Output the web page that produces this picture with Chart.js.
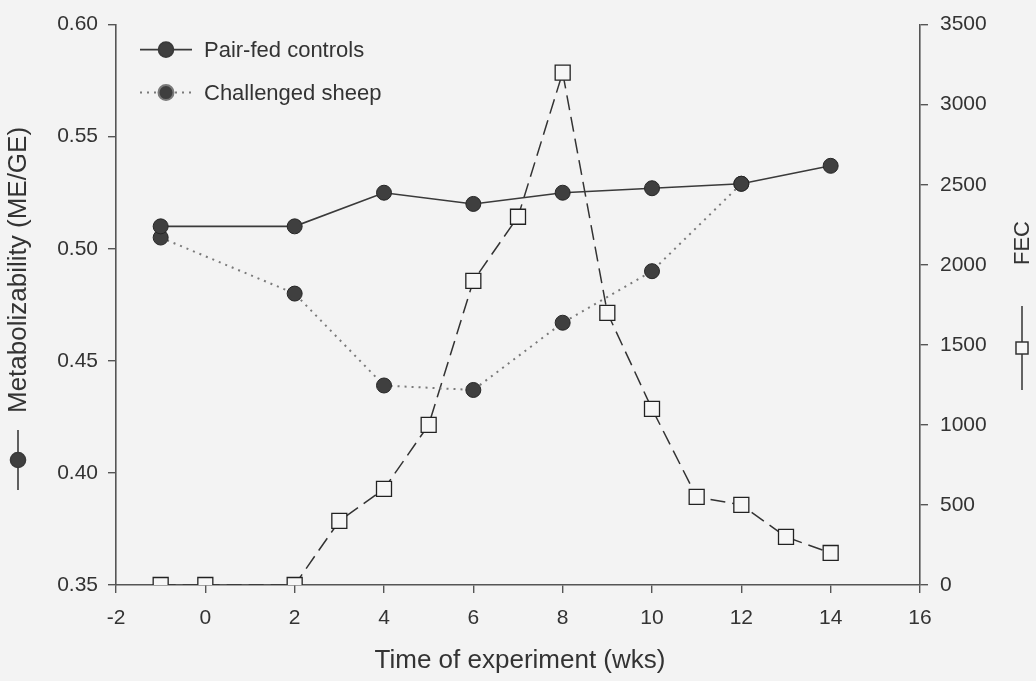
<!DOCTYPE html>
<html>
<head>
<meta charset="utf-8">
<script src="https://cdn.jsdelivr.net/npm/chart.js@4.4.1/dist/chart.umd.min.js"></script>
<style>
    html, body { margin: 0; padding: 0; background: #f3f3f3; }
    #wrap { width: 1036px; height: 681px; }
</style>
</head>
<body>
<div id="wrap"><canvas id="chart" width="1036" height="681"></canvas></div>
<script>
        // Data
        const controlWeeks = [-1, 2, 4, 6, 8, 10, 12, 14];
        const controlME = [0.510, 0.510, 0.525, 0.520, 0.525, 0.527, 0.529, 0.537];

        const challengedWeeks = [-1, 2, 4, 6, 8, 10, 12];
        const challengedME = [0.505, 0.480, 0.439, 0.437, 0.467, 0.490, 0.529];

        const fecWeeks = [-1, 0, 2, 3, 4, 5, 6, 7, 8, 9, 10, 11, 12, 13, 14];
        const fecValues = [0, 0, 0, 400, 600, 1000, 1900, 2300, 3200, 1700, 1100, 550, 500, 300, 200];

        const xTicks = [-2, 0, 2, 4, 6, 8, 10, 12, 14, 16];
        const leftTicks = [0.35, 0.40, 0.45, 0.50, 0.55, 0.60];
        const rightTicks = [0, 500, 1000, 1500, 2000, 2500, 3000, 3500];

        const FONT = '"Liberation Sans", Arial, Helvetica, sans-serif';
        const INK = '#333333';
        const AXIS = '#555555';

        Chart.defaults.font.family = FONT;
        Chart.defaults.color = INK;

        function pts(xs, ys) {
            return xs.map((x, i) => ({ x: x, y: ys[i] }));
        }

        // small line+marker symbol, used in legend and axis titles
        function drawSymbol(ctx, ds, x1, y1, x2, y2) {
            ctx.save();
            ctx.strokeStyle = ds.borderColor;
            ctx.lineWidth = ds.borderWidth;
            ctx.setLineDash(ds.borderDash || []);
            ctx.beginPath();
            ctx.moveTo(x1, y1);
            ctx.lineTo(x2, y2);
            ctx.stroke();
            ctx.setLineDash([]);
            Chart.helpers.drawPoint(ctx, {
                pointStyle: ds.pointStyle,
                radius: ds.symbolRadius,
                borderWidth: ds.pointBorderWidth
            }, (x1 + x2) / 2, (y1 + y2) / 2);
            ctx.restore();
        }

        function markerStyle(ctx, ds) {
            ctx.fillStyle = ds.pointBackgroundColor;
            ctx.strokeStyle = ds.pointBorderColor;
            ctx.lineWidth = ds.pointBorderWidth;
        }

        const decorations = {
            id: 'decorations',
            afterDraw(chart) {
                const ctx = chart.ctx;
                const area = chart.chartArea;
                const sets = chart.data.datasets;

                // legend, top left inside the plot
                ctx.save();
                ctx.font = '22px ' + FONT;
                ctx.textBaseline = 'middle';
                ctx.fillStyle = INK;
                [0, 1].forEach((k, row) => {
                    const ds = sets[k];
                    const y = area.top + 25 + row * 43;
                    ctx.save();
                    markerStyle(ctx, ds);
                    drawSymbol(ctx, ds, area.left + 24, y, area.left + 76, y);
                    ctx.restore();
                    ctx.fillStyle = INK;
                    ctx.fillText(ds.label, area.left + 88, y + 1);
                });
                ctx.restore();

                // left axis title with its symbol
                ctx.save();
                ctx.translate(19, 0);
                ctx.rotate(-Math.PI / 2);
                ctx.font = '26px ' + FONT;
                ctx.fillStyle = INK;
                ctx.textAlign = 'left';
                ctx.textBaseline = 'middle';
                ctx.fillText('Metabolizability (ME/GE)', -413, 0);
                ctx.restore();
                ctx.save();
                markerStyle(ctx, sets[0]);
                drawSymbol(ctx, sets[0], 18, 490, 18, 430);
                ctx.restore();

                // right axis title with its symbol
                ctx.save();
                ctx.translate(1023, 0);
                ctx.rotate(-Math.PI / 2);
                ctx.font = '22px ' + FONT;
                ctx.fillStyle = INK;
                ctx.textAlign = 'left';
                ctx.textBaseline = 'middle';
                ctx.fillText('FEC', -265, 0);
                ctx.restore();
                ctx.save();
                markerStyle(ctx, sets[2]);
                drawSymbol(ctx, Object.assign({}, sets[2], { borderDash: [] }), 1022, 390, 1022, 306);
                ctx.restore();

                // x axis title
                ctx.save();
                ctx.font = '26px ' + FONT;
                ctx.fillStyle = INK;
                ctx.textAlign = 'center';
                ctx.textBaseline = 'middle';
                ctx.fillText('Time of experiment (wks)', (area.left + area.right) / 2 + 2, 661);
                ctx.restore();
            }
        };

        const ctx = document.getElementById('chart').getContext('2d');
        new Chart(ctx, {
            type: 'line',
            data: {
                datasets: [{
                    label: 'Pair-fed controls',
                    data: pts(controlWeeks, controlME),
                    yAxisID: 'y',
                    borderColor: '#3a3a3a',
                    borderWidth: 1.6,
                    pointStyle: 'circle',
                    pointRadius: 7.5,
                    symbolRadius: 7.5,
                    pointBackgroundColor: '#3f3f3f',
                    pointBorderColor: '#262626',
                    pointBorderWidth: 1
                }, {
                    label: 'Challenged sheep',
                    data: pts(challengedWeeks, challengedME),
                    yAxisID: 'y',
                    borderColor: '#7a7a7a',
                    borderWidth: 2,
                    borderDash: [2, 5],
                    pointStyle: 'circle',
                    pointRadius: 7.5,
                    symbolRadius: 7.5,
                    pointBackgroundColor: '#3f3f3f',
                    pointBorderColor: '#262626',
                    pointBorderWidth: 1
                }, {
                    label: 'FEC',
                    data: pts(fecWeeks, fecValues),
                    yAxisID: 'y2',
                    borderColor: '#333333',
                    borderWidth: 1.5,
                    borderDash: [15, 7],
                    pointStyle: 'rect',
                    pointRadius: 10.6,
                    symbolRadius: 8.5,
                    pointBackgroundColor: '#f6f6f6',
                    pointBorderColor: '#222222',
                    pointBorderWidth: 1.3
                }]
            },
            options: {
                responsive: false,
                animation: false,
                layout: { padding: { top: 17, left: 0, right: 0, bottom: 0 } },
                plugins: {
                    legend: { display: false },
                    tooltip: { enabled: false }
                },
                elements: { line: { tension: 0 } },
                scales: {
                    x: {
                        type: 'linear',
                        min: -2,
                        max: 16,
                        afterBuildTicks: (s) => { s.ticks = xTicks.map(v => ({ value: v })); },
                        afterFit: (s) => { s.height = 96; },
                        border: { color: AXIS, width: 1.6 },
                        grid: { drawOnChartArea: false, tickLength: 8, color: AXIS, lineWidth: 1.4 },
                        ticks: { font: { size: 21 }, color: INK, padding: 13, maxRotation: 0, callback: (v) => String(v) }
                    },
                    y: {
                        type: 'linear',
                        position: 'left',
                        min: 0.35,
                        max: 0.60,
                        afterBuildTicks: (s) => { s.ticks = leftTicks.map(v => ({ value: v })); },
                        afterFit: (s) => { s.width = 116; },
                        border: { color: AXIS, width: 1.6 },
                        grid: { drawOnChartArea: false, tickLength: 8, color: AXIS, lineWidth: 1.4 },
                        ticks: {
                            font: { size: 21 },
                            color: INK,
                            padding: 10,
                            callback: (v) => v.toFixed(2)
                        }
                    },
                    y2: {
                        type: 'linear',
                        position: 'right',
                        min: 0,
                        max: 3500,
                        afterBuildTicks: (s) => { s.ticks = rightTicks.map(v => ({ value: v })); },
                        afterFit: (s) => { s.width = 116; },
                        border: { color: AXIS, width: 1.6 },
                        grid: { drawOnChartArea: false, tickLength: 8, color: AXIS, lineWidth: 1.4 },
                        ticks: { font: { size: 21 }, color: INK, padding: 12, callback: (v) => String(v) }
                    }
                }
            },
            plugins: [decorations]
        });
</script>
</body>
</html>
